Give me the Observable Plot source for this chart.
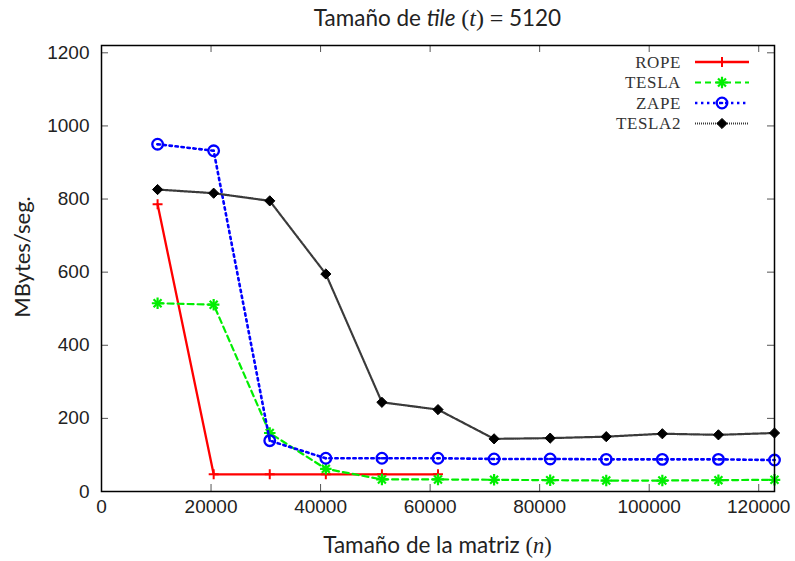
<!DOCTYPE html>
<html>
<head>
<meta charset="utf-8">
<script src="https://cdn.jsdelivr.net/npm/d3@7"></script>
<script src="https://cdn.jsdelivr.net/npm/@observablehq/plot@0.6"></script>
<style>
  body { margin: 0; background: #fff; }
  #chart { position: relative; width: 795px; height: 561px; }
  #title {
    height: 35px; line-height: 36px; margin-left: 101px; width: 673px;
    text-align: center; font-family: "Lato", sans-serif; font-size: 22.5px; color: #222;
  }
  #title .m { font-family: "Liberation Serif", serif; font-style: italic; font-size: 24px; }
  #title .r { font-family: "Liberation Serif", serif; font-size: 24px; }
  #legend { position: absolute; left: 590px; top: 50px; }
</style>
</head>
<body>
<div id="chart">
  <div id="title">Tamaño de <i>tile</i> <span class="r">(</span><span class="m">t</span><span class="r">)</span> <span class="r">=</span> 5120</div>
</div>
<script>
// Matrix sizes (n) measured, multiples of the tile size 5120
const matrixSizes = [10240, 20480, 30720, 40960, 51200, 61440, 71680, 81920, 92160, 102400, 112640, 122880];

// Throughput in MBytes/seg. for each method
const ropeRate   = [786, 47, 47, 47, 47, 47];
const teslaRate  = [515, 511, 160, 62, 33, 33, 32, 31, 30, 30, 31, 32];
const zapeRate   = [950, 932, 139, 91, 91, 91, 89, 89, 88, 88, 88, 86];
const tesla2Rate = [826, 816, 795, 595, 244, 224, 144, 146, 150, 158, 155, 160];

// Axis ticks
const xTicks = [0, 20000, 40000, 60000, 80000, 100000, 120000];
const yTicks = [0, 200, 400, 600, 800, 1000, 1200];

const seriesNames = ["ROPE", "TESLA", "ZAPE", "TESLA2"];
const seriesValues = [ropeRate, teslaRate, zapeRate, tesla2Rate];

// Drawing style for each series (line colour may differ slightly from the marker colour)
const styles = {
  ROPE:   {color: "#ff0000", line: "#ff0000", width: 2.3, dash: null,      marks: [{symbol: "plus", r: 3.3, fill: "none", sw: 2}]},
  TESLA:  {color: "#00ee00", line: "#00ee00", width: 2.2, dash: "6,4",     marks: [{symbol: "plus", r: 3.8, fill: "none", sw: 2.2}, {symbol: "times", r: 3.7, fill: "none", sw: 2.2}]},
  ZAPE:   {color: "#0000ff", line: "#0000ff", width: 2.6, dash: "2.4,3.6", marks: [{symbol: "circle", r: 5.3, fill: "none", sw: 2.3}, {symbol: "circle", r: 1.3, fill: "#0000ff", sw: 0}]},
  TESLA2: {color: "#000000", line: "#3a3a3a", width: 2.2, dash: "1,1",     marks: [{symbol: "diamond2", r: 4.6, fill: "#000000", sw: 1}]}
};

const rows = seriesNames.map((name, i) =>
  seriesValues[i].map((v, j) => ({series: name, n: matrixSizes[j], v}))
);

const marginTop = 10, marginBottom = 70, marginLeft = 101, marginRight = 21;
const W = 795, H = 526;
const innerH = H - marginTop - marginBottom;
const innerW = W - marginLeft - marginRight;
const tickLen = 7;

const marks = [];
// inward ticks on all four sides
marks.push(Plot.tickX(xTicks, {x: d => d, insetTop: innerH - tickLen, stroke: "#555"}));
marks.push(Plot.tickX(xTicks, {x: d => d, insetBottom: innerH - tickLen, stroke: "#555"}));
marks.push(Plot.tickY(yTicks, {y: d => d, insetRight: innerW - tickLen, stroke: "#555"}));
marks.push(Plot.tickY(yTicks, {y: d => d, insetLeft: innerW - tickLen, stroke: "#555"}));

seriesNames.forEach((name, i) => {
  const s = styles[name];
  marks.push(Plot.line(rows[i], {
    x: "n", y: "v", stroke: s.line, strokeWidth: s.width,
    strokeDasharray: s.dash || undefined, curve: "linear"
  }));
  s.marks.forEach(m => {
    marks.push(Plot.dot(rows[i], {
      x: "n", y: "v", symbol: m.symbol, r: m.r,
      stroke: m.sw ? s.color : "none", strokeWidth: m.sw,
      fill: m.fill
    }));
  });
});

marks.push(Plot.axisX({ticks: xTicks, tickSize: 0, tickPadding: 8, tickFormat: d => String(d), label: null}));
marks.push(Plot.axisY({ticks: yTicks, tickSize: 0, tickPadding: 12, tickFormat: d => String(d), label: null}));
marks.push(Plot.frame({stroke: "#000", strokeWidth: 1.5}));

const plot = Plot.plot({
  width: W, height: H,
  marginTop, marginBottom, marginLeft, marginRight,
  x: {domain: [0, 122880]},
  y: {domain: [0, 1220]},
  style: {fontFamily: "Liberation Sans, Arial, sans-serif", fontSize: "19px", color: "#222", background: "#fff"},
  marks
});

document.getElementById("chart").appendChild(plot);

// Axis titles with math-italic variables
const svg = d3.select(plot);
const xr = plot.scale("x").range;
const yr = plot.scale("y").range;

const xt = svg.append("text")
  .attr("x", (xr[0] + xr[1]) / 2).attr("y", 518)
  .attr("text-anchor", "middle")
  .attr("font-family", "Lato, sans-serif").attr("font-size", 22.5).attr("fill", "#222");
xt.append("tspan").text("Tamaño de la matriz ");
xt.append("tspan").attr("font-family", "Liberation Serif, serif").text("(");
xt.append("tspan").attr("font-family", "Liberation Serif, serif").attr("font-style", "italic").text("n");
xt.append("tspan").attr("font-family", "Liberation Serif, serif").text(")");

svg.append("text")
  .attr("transform", `translate(30,${(yr[0] + yr[1]) / 2 - 11}) rotate(-90)`)
  .attr("text-anchor", "middle")
  .attr("font-family", "Lato, sans-serif").attr("font-size", 22).attr("fill", "#222")
  .text("MBytes/seg.");

// Legend in the upper right corner of the frame
const rowGap = 20.5;
const leg = d3.select("#chart").append("svg")
  .attr("id", "legend").attr("width", 170).attr("height", 90);
const typeMap = {plus: d3.symbolPlus, times: d3.symbolTimes, circle: d3.symbolCircle, diamond2: d3.symbolDiamond2};
seriesNames.forEach((name, i) => {
  const s = styles[name];
  const g = leg.append("g").attr("transform", `translate(0,${12 + i * rowGap})`);
  g.append("text").attr("x", 91).attr("y", 0).attr("dy", "0.35em")
    .attr("text-anchor", "end")
    .attr("font-family", "Liberation Serif, serif").attr("font-size", 17).attr("fill", "#333")
    .attr("letter-spacing", "0.6px")
    .text(name);
  g.append("line").attr("x1", 105).attr("x2", 159).attr("y1", 0).attr("y2", 0)
    .attr("stroke", s.line).attr("stroke-width", s.width)
    .attr("stroke-dasharray", s.dash);
  s.marks.forEach(m => {
    g.append("path").attr("transform", "translate(132,0)")
      .attr("d", d3.symbol(typeMap[m.symbol], m.r * m.r * Math.PI)())
      .attr("fill", m.fill).attr("stroke", m.sw ? s.color : "none").attr("stroke-width", m.sw);
  });
});
</script>
</body>
</html>
